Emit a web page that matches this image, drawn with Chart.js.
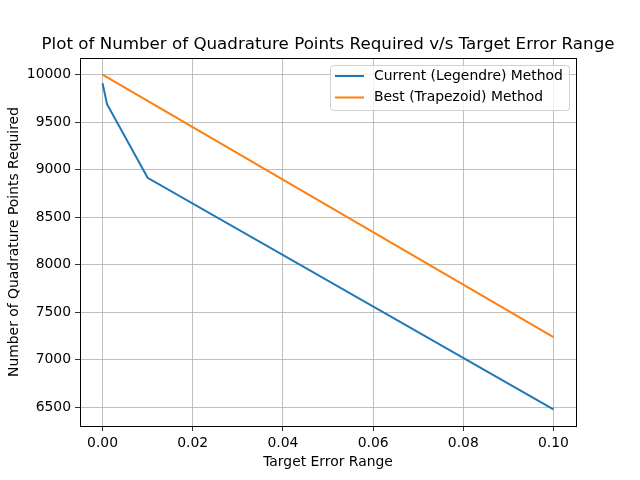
<!DOCTYPE html>
<html><head><meta charset="utf-8">
<script src="https://cdn.jsdelivr.net/npm/chart.js@4/dist/chart.umd.min.js"></script>
<style>html,body{margin:0;padding:0;background:#fff}#wrap{width:640px;height:480px}</style>
</head><body><div id="wrap"><canvas id="c" width="640" height="480"></canvas></div>
<script>
const legendreX = [0, 0.001, 0.01, 0.1];
const legendreY = [9910, 9690, 8915, 6480];
const trapezoidX = [0, 0.1];
const trapezoidY = [10000, 7240];
const xTicks = [0, 0.02, 0.04, 0.06, 0.08, 0.10];
const yTicks = [6500, 7000, 7500, 8000, 8500, 9000, 9500, 10000];
const seriesNames = ['Current (Legendre) Method', 'Best (Trapezoid) Method'];
const colors = ['#1f77b4', '#ff7f0e'];
const FONT = "'DejaVu Sans', sans-serif";

const framePlugin = {
  id: 'frame',
  afterDraw(chart) {
    const {ctx, chartArea: a} = chart;
    ctx.save();
    ctx.strokeStyle = '#000'; ctx.lineWidth = 1;
    ctx.strokeRect(Math.round(a.left) + 0.5, Math.round(a.top) + 0.5, Math.round(a.right - a.left), Math.round(a.bottom - a.top));
    // title
    ctx.fillStyle = '#000';
    ctx.font = "16.7px " + FONT;
    ctx.textAlign = 'center'; ctx.textBaseline = 'alphabetic';
    ctx.fillText('Plot of Number of Quadrature Points Required v/s Target Error Range', (a.left + a.right) / 2, 49);
    // legend
    const lx = 330, ly = 65, lw = 239, lh = 45;
    ctx.fillStyle = 'rgba(255,255,255,0.8)';
    ctx.strokeStyle = '#d0d0d0';
    ctx.beginPath();
    if (ctx.roundRect) ctx.roundRect(lx + 0.5, ly + 0.5, lw, lh, 3); else ctx.rect(lx + 0.5, ly + 0.5, lw, lh);
    ctx.fill(); ctx.stroke();
    ctx.font = "13.9px " + FONT;
    ctx.textAlign = 'left'; ctx.textBaseline = 'middle';
    seriesNames.forEach((n, i) => {
      const y = 76 + i * 21.5;
      ctx.strokeStyle = colors[i]; ctx.lineWidth = 2;
      ctx.beginPath(); ctx.moveTo(335, y); ctx.lineTo(364, y); ctx.stroke();
      ctx.fillStyle = '#000';
      ctx.fillText(n, 374, y);
    });
    ctx.restore();
  }
};

new Chart(document.getElementById('c'), {
  type: 'scatter',
  data: {
    datasets: [
      { label: seriesNames[0], data: legendreX.map((x, i) => ({x, y: legendreY[i]})), showLine: true, borderColor: colors[0], backgroundColor: colors[0], borderWidth: 2, pointRadius: 0, tension: 0 },
      { label: seriesNames[1], data: trapezoidX.map((x, i) => ({x, y: trapezoidY[i]})), showLine: true, borderColor: colors[1], backgroundColor: colors[1], borderWidth: 2, pointRadius: 0, tension: 0 }
    ]
  },
  options: {
    responsive: false, animation: false, devicePixelRatio: 1,
    layout: { padding: { top: 58, right: 64, left: 0, bottom: 0 } },
    plugins: { legend: { display: false }, title: { display: false }, tooltip: { enabled: false } },
    scales: {
      x: {
        type: 'linear', min: -0.005, max: 0.105,
        afterBuildTicks(s) { s.ticks = xTicks.map(v => ({value: v})); },
        afterFit(s) { s.height = 54; },
        ticks: { color: '#000', font: { family: FONT, size: 13.9 }, padding: 4, maxRotation: 0, callback: v => v.toFixed(2) },
        grid: { color: '#b0b0b0', lineWidth: 0.8, tickColor: '#000', tickLength: 5 },
        border: { color: '#000', width: 1 },
        title: { display: true, text: 'Target Error Range', color: '#000', font: { family: FONT, size: 13.9 }, padding: { top: 2, bottom: 9 } }
      },
      y: {
        type: 'linear', min: 6304, max: 10176,
        afterBuildTicks(s) { s.ticks = yTicks.map(v => ({value: v})); },
        afterFit(s) { s.width = 80; },
        ticks: { color: '#000', font: { family: FONT, size: 13.9 }, padding: 4, callback: v => String(v) },
        grid: { color: '#b0b0b0', lineWidth: 0.8, tickColor: '#000', tickLength: 5 },
        border: { color: '#000', width: 1 },
        title: { display: true, text: 'Number of Quadrature Points Required', color: '#000', font: { family: FONT, size: 13.9 }, padding: { top: 6, bottom: 4 } }
      }
    }
  },
  plugins: [framePlugin]
});
</script></body></html>
